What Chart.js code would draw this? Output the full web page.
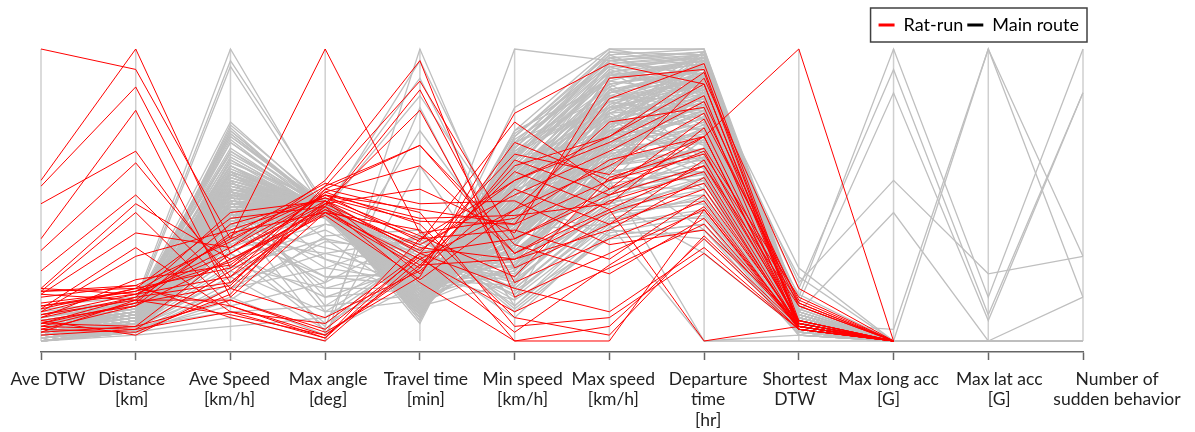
<!DOCTYPE html>
<html>
<head>
<meta charset="utf-8">
<script src="https://cdn.jsdelivr.net/npm/chart.js@4"></script>
<style>
  html, body { margin: 0; padding: 0; background: #fff; }
</style>
</head>
<body>
<canvas id="myChart" width="1195" height="432"></canvas>
<script>
// axis names (one per parallel axis)
const axisLabels = [
    'Ave DTW', ['Distance', '[km]'], ['Ave Speed', '[km/h]'], ['Max angle', '[deg]'],
    ['Travel time', '[min]'], ['Min speed', '[km/h]'], ['Max speed', '[km/h]'],
    ['Departure', 'time', '[hr]'], ['Shortest', 'DTW'], ['Max long acc', '[G]'],
    ['Max lat acc', '[G]'], ['Number of', 'sudden behavior']
];
// small horizontal shift of each axis name, as in the original figure
const labelOffsets = [7, -4, -1, 3, 6, 8, 4, 4, -4, -5, 11, 34];

const legendNames = ['Rat-run', 'Main route'];

// each row = one trip, normalised 0-100 on every axis (null = not recorded)
const ratRunLines = [
    [100, 93, 35, 50, 45, 40, 55, 70, 6, 0, null, null],
    [55, 100, 30, 48, 35, 55, 70, 88, 5, 0, null, null],
    [53, 87, 25, 52, 67, 30, 45, 60, 7, 0, null, null],
    [47, 65, 20, 46, 86, 25, 40, 52, 5, 0, null, null],
    [35, 79, 15, 44, 28, 45, 60, 78, 12, 0, null, null],
    [31, 61, 22, 53, 89, 35, 52, 65, 6, 0, null, null],
    [24, 50, 18, 47, 79, 20, 35, 48, 4, 0, null, null],
    [18, 47, 28, 45, 33, 50, 65, 82, 13, 0, null, null],
    [17, 44, 12, 2, 25, 60, 70, 92, 5, 0, null, null],
    [16, 37, 32, 55, 96, 15, 30, 45, 4, 0, null, null],
    [11, 32, 10, 1, 30, 64, 57, 90, 18, 0, null, null],
    [10, 29, 38, 49, 41, 40, 83, 95, 7, 0, null, null],
    [8, 21, 26, 51, 60, 30, 48, 58, 5, 0, null, null],
    [12, 17, 35, 100, 37, 42, 62, 70, 5, 0, null, null],
    [6, 15, 20, 48, 30, 35, 50, 70, 100, 0, null, null],
    [17, 19, 8, 0, 28, 10, 25, 40, 5, 0, null, null],
    [16, 14, 14, 3, 22, 78, 95, 88, 6, 0, null, null],
    [18, 16, 30, 50, 34, 75, 52, 76, 14, 0, null, null],
    [17, 18, 42, 46, 20, 0, 5, 35, 4, 0, null, null],
    [5, 4, 24, 44, 38, 0, 0, 45, 5, 0, null, null],
    [4, 3, 16, 52, 44, 5, 8, 30, 4, 0, null, null],
    [7, 2, 18, 8, 24, 52, 40, 62, 6, 0, null, null],
    [3, 5, 30, 47, 32, 28, 44, 54, 5, 0, null, null],
    [9, 14, 36, 54, 47, 48, 33, 38, 7, 0, null, null],
    [12, 16, 22, 45, 26, 58, 45, 0, 5, 0, null, null],
    [6, 13, 40, 49, 36, 22, 56, 66, 15, 0, null, null],
    [10, 18, 12, 1, 35, 38, 28, 50, 6, 0, null, null],
    [4, 12, 28, 43, 21, 45, 75, 80, 4, 0, null, null],
    [15, 19, 34, 53, 67, 33, 23, 42, 5, 0, null, null],
    [2, 4, 10, 6, 30, 18, 10, 32, 4, 0, null, null],
    [8, 15, 44, 48, 23, 62, 50, 60, 12, 0, null, null],
    [5, 13, 19, 51, 40, 8, 2, 36, 5, 0, null, null],
    [13, 17, 27, 46, 31, 55, 68, 84, 6, 0, null, null],
    [3, 14, 9, 2, 26, 28, 38, 56, 4, 0, null, null],
    [9, 16, 32, 50, 42, 43, 47, 73, 7, 0, null, null],
    [6, 5, 14, 4, 29, 3, 26, 46, 5, 0, null, null],
    [11, 18, 25, 47, 52, 37, 90, 93, 6, 0, null, null],
    [7, 12, 37, 44, 25, 68, 55, 64, 13, 0, null, null]
];

const mainRouteLines = [
    [2, 6, 45, 46, 18, 40, 70, 85, 5, 0, 0, 0],
    [4, 8, 52, 44, 14, 48, 78, 92, 6, 0, 0, 0],
    [1, 5, 38, 47, 24, 30, 60, 70, 4, 0, 0, 0],
    [6, 10, 58, 45, 12, 55, 85, 95, 7, 0, 0, 0],
    [3, 7, 48, 43, 16, 42, 72, 80, 5, 0, 0, 0],
    [0, 4, 33, 48, 30, 22, 50, 60, 3, 0, 0, 0],
    [5, 9, 55, 46, 13, 52, 82, 88, 8, 0, 0, 0],
    [2, 6, 42, 45, 20, 36, 66, 75, 4, 0, 0, 0],
    [8, 12, 60, 42, 10, 60, 90, 97, 9, 0, 0, 0],
    [1, 5, 40, 49, 22, 33, 62, 65, 5, 0, 0, 0],
    [4, 8, 50, 46, 15, 45, 76, 90, 6, 0, 0, 0],
    [3, 7, 46, 44, 17, 38, 68, 78, 5, 0, 0, 0],
    [7, 11, 57, 47, 12, 58, 88, 94, 7, 0, 0, 0],
    [2, 5, 36, 45, 26, 28, 56, 55, 3, 0, 0, 0],
    [5, 9, 53, 43, 14, 50, 80, 86, 6, 0, 0, 0],
    [0, 4, 31, 40, 33, 18, 45, 48, 2, 0, 0, 0],
    [6, 10, 59, 46, 11, 63, 92, 98, 8, 0, 0, 0],
    [3, 6, 44, 47, 19, 35, 64, 72, 4, 0, 0, 0],
    [4, 8, 49, 45, 16, 44, 74, 83, 5, 0, 0, 0],
    [1, 5, 39, 44, 23, 31, 58, 62, 4, 0, 0, 0],
    [9, 13, 61, 48, 9, 66, 94, 96, 10, 0, 0, 0],
    [2, 7, 47, 46, 17, 41, 71, 87, 6, 0, 0, 0],
    [5, 8, 51, 42, 15, 47, 79, 91, 7, 0, 0, 0],
    [3, 6, 43, 49, 20, 37, 67, 68, 5, 0, 0, 0],
    [0, 3, 35, 45, 28, 25, 53, 52, 3, 0, 0, 0],
    [7, 11, 56, 44, 12, 57, 86, 93, 8, 0, 0, 0],
    [4, 9, 54, 46, 13, 53, 83, 89, 6, 0, 0, 0],
    [2, 6, 41, 47, 21, 34, 63, 74, 5, 0, 0, 0],
    [1, 5, 37, 43, 25, 29, 57, 58, 4, 0, 0, 0],
    [6, 10, 58, 45, 11, 61, 91, 95, 9, 0, 0, 0],
    [5, 10, 70, 46, 10, 62, 92, 96, 7, 0, 0, 0],
    [7, 12, 72, 45, 9, 66, 95, 97, 9, 0, 0, 0],
    [4, 9, 74, 47, 8, 58, 88, 92, 6, 0, 0, 0],
    [6, 11, 69, 44, 11, 55, 85, 94, 8, 0, 0, 0],
    [8, 13, 75, 46, 7, 68, 97, 99, 10, 0, 0, 0],
    [5, 10, 71, 45, 10, 60, 90, 93, 7, 0, 0, 0],
    [9, 14, 100, 45, 6, 70, 98, 100, 12, 0, 0, 0],
    [8, 13, 96, 47, 7, 66, 96, 98, 10, 0, 0, 0],
    [7, 12, 94, 44, 8, 64, 94, 97, 9, 0, 0, 0],
    [0, 3, 20, 30, 35, 15, 40, 45, 3, 0, 0, 0],
    [1, 4, 12, 20, 37, 10, 36, 40, 2, 0, 0, 0],
    [0, 2, 5, 8, 30, 8, 38, 35, 4, 0, 0, 0],
    [2, 5, 25, 35, 28, 20, 48, 50, 3, 0, 0, 0],
    [1, 4, 15, 2, 60, 12, 42, 42, 2, 0, 0, 0],
    [0, 3, 8, 0, 100, 25, 45, 55, 5, 0, 0, 0],
    [3, 6, 28, 38, 22, 26, 52, 57, 4, 0, 0, 0],
    [2, 5, 30, 5, 80, 18, 44, 47, 3, 0, 0, 0],
    [3, 7, 45, 25, 20, 35, 65, 70, 5, 0, 0, 0],
    [4, 8, 50, 15, 18, 40, 72, 82, 6, 0, 0, 0],
    [2, 6, 40, 32, 24, 30, 60, 64, 4, 0, 0, 0],
    [5, 9, 55, 28, 15, 48, 80, 88, 7, 0, 0, 0],
    [1, 5, 48, 10, 14, 44, 75, 84, 6, 0, 0, 0],
    [4, 8, 62, 43, 12, 100, 96, 99, 11, 0, 0, 0],
    [5, 9, 60, 45, 13, 80, 100, 100, 8, 0, 0, 0],
    [3, 7, 52, 46, 15, 72, 100, 95, 7, 0, 0, 0],
    [2, 6, 46, 44, 18, 38, 40, 0, 0, 0, 0, 0],
    [3, 7, 49, 47, 16, 42, 55, 0, 2, 0, 0, 0],
    [1, 5, 43, 44, 96, 30, 60, 66, 5, 0, 0, 0],
    [2, 6, 47, 45, 84, 36, 70, 76, 5, 0, 0, 0],
    [1, 4, 38, 20, 72, 28, 58, 62, 4, 0, 0, 0],
    [0, 4, 34, 46, 90, 24, 54, 58, 4, 0, 0, 0],
    [3, 7, 50, 45, 15, 45, 75, 85, 15, 100, 15, 100],
    [4, 8, 52, 46, 14, 48, 78, 88, 18, 93, 9, 85],
    [2, 6, 48, 44, 17, 40, 70, 80, 13, 85, 7, 85],
    [5, 9, 55, 45, 13, 52, 82, 90, 20, 55, 23, 29],
    [3, 7, 47, 47, 16, 43, 73, 84, 10, 44, 0, 15],
    [4, 8, 51, 46, 14, 46, 76, 86, 6, 4, 100, 29],
    [2, 6, 45, 45, 18, 39, 69, 79, 5, 0, 100, 15],
    [3, 7, 47, 46, 17, 41, 71, 83, 22, 0, 0, 0],
    [4, 8, 53, 44, 13, 50, 81, 91, 25, 0, 0, 0],
    [2, 5, 42, 45, 20, 34, 64, 71, 16, 0, 0, 0],
    [1, 5, 44, 46, 19, 52, 62, 68, 5, 0, 0, 0],
    [3, 7, 50, 45, 15, 25, 85, 90, 6, 0, 0, 0],
    [2, 6, 47, 44, 17, 60, 66, 82, 6, 0, 0, 0],
    [4, 8, 53, 46, 14, 35, 90, 93, 7, 0, 0, 0],
    [0, 4, 36, 47, 27, 45, 50, 60, 4, 0, 0, 0],
    [5, 9, 56, 45, 12, 20, 76, 87, 7, 0, 0, 0],
    [2, 6, 43, 43, 20, 65, 82, 78, 5, 0, 0, 0],
    [3, 7, 48, 46, 16, 50, 60, 92, 6, 0, 0, 0],
    [1, 5, 40, 45, 23, 14, 68, 73, 4, 0, 0, 0],
    [6, 10, 57, 44, 12, 54, 72, 96, 8, 0, 0, 0],
    [4, 8, 52, 47, 14, 30, 56, 66, 5, 0, 0, 0],
    [2, 6, 46, 46, 18, 58, 95, 98, 6, 0, 0, 0],
    [3, 7, 49, 44, 15, 38, 86, 74, 5, 0, 0, 0],
    [1, 5, 41, 48, 21, 48, 78, 64, 4, 0, 0, 0],
    [5, 9, 54, 45, 13, 26, 62, 84, 7, 0, 0, 0],
    [0, 3, 34, 46, 29, 36, 74, 90, 5, 0, 0, 0],
    [7, 11, 58, 46, 11, 68, 84, 80, 8, 0, 0, 0],
    [2, 6, 45, 45, 19, 22, 70, 94, 6, 0, 0, 0],
    [4, 8, 51, 43, 14, 62, 98, 86, 7, 0, 0, 0],
    [1, 6, 44, 45, 19, 47, 58, 63, 5, 0, 0, 0],
    [3, 8, 51, 46, 15, 34, 73, 97, 6, 0, 0, 0],
    [2, 7, 48, 44, 17, 56, 88, 71, 6, 0, 0, 0],
    [4, 9, 55, 47, 13, 44, 66, 92, 7, 0, 0, 0],
    [0, 4, 37, 45, 25, 27, 47, 69, 4, 0, 0, 0],
    [5, 10, 60, 46, 11, 59, 80, 99, 8, 0, 0, 0],
    [2, 6, 46, 45, 18, 32, 78, 81, 5, 0, 0, 0],
    [3, 7, 50, 43, 16, 63, 70, 88, 6, 0, 0, 0],
    [1, 5, 42, 47, 22, 40, 92, 76, 5, 0, 0, 0],
    [6, 11, 63, 45, 10, 49, 64, 95, 9, 0, 0, 0],
    [4, 8, 53, 46, 14, 57, 76, 59, 6, 0, 0, 0],
    [2, 6, 45, 44, 19, 24, 54, 86, 5, 0, 0, 0],
    [3, 7, 49, 46, 16, 46, 84, 93, 6, 0, 0, 0],
    [1, 4, 39, 48, 24, 38, 67, 90, 4, 0, 0, 0],
    [5, 9, 57, 45, 12, 42, 89, 85, 8, 0, 0, 0],
    [0, 3, 32, 44, 31, 30, 61, 77, 3, 0, 0, 0],
    [7, 12, 65, 46, 10, 64, 87, 97, 9, 0, 0, 0],
    [2, 6, 47, 47, 17, 51, 72, 70, 5, 0, 0, 0],
    [4, 8, 52, 45, 14, 36, 58, 91, 6, 0, 0, 0],
    [3, 7, 48, 43, 16, 55, 93, 83, 7, 0, 0, 0],
    [1, 5, 41, 46, 21, 19, 52, 61, 4, 0, 0, 0],
    [6, 10, 59, 44, 11, 67, 99, 98, 8, 0, 0, 0],
    [2, 6, 44, 46, 18, 43, 80, 79, 5, 0, 0, 0],
    [5, 9, 56, 47, 12, 33, 69, 94, 7, 0, 0, 0],
    [3, 7, 50, 45, 15, 60, 77, 67, 6, 0, 0, 0],
    [0, 4, 35, 43, 28, 16, 43, 56, 3, 0, 0, 0],
    [4, 8, 54, 46, 13, 47, 91, 96, 7, 0, 0, 0],
    [2, 5, 43, 45, 20, 29, 59, 73, 4, 0, 0, 0],
    [8, 13, 68, 46, 9, 57, 83, 92, 9, 0, 0, 0],
    [6, 11, 73, 44, 9, 63, 93, 98, 8, 0, 0, 0],
    [7, 12, 70, 47, 10, 52, 79, 89, 8, 0, 0, 0],
    [5, 10, 68, 45, 11, 69, 90, 95, 7, 0, 0, 0],
    [4, 9, 72, 46, 9, 47, 86, 91, 7, 0, 0, 0],
    [3, 7, 62, 45, 12, 41, 68, 87, 6, 0, 0, 0],
    [2, 6, 28, 44, 29, 21, 46, 54, 4, 0, 0, 0],
    [1, 4, 22, 40, 33, 17, 41, 50, 3, 0, 0, 0],
    [3, 6, 26, 18, 27, 23, 49, 58, 4, 0, 0, 0],
    [0, 3, 18, 25, 36, 12, 39, 44, 3, 0, 0, 0],
    [2, 5, 10, 12, 32, 14, 35, 38, 2, 0, 0, 0],
    [1, 4, 33, 6, 24, 26, 51, 63, 4, 0, 0, 0],
    [4, 8, 40, 22, 19, 37, 62, 75, 5, 0, 0, 0],
    [3, 7, 35, 30, 22, 31, 57, 66, 5, 0, 0, 0],
    [5, 9, 58, 35, 13, 54, 83, 90, 7, 0, 0, 0],
    [2, 6, 52, 12, 16, 45, 71, 80, 6, 0, 0, 0],
    [1, 5, 44, 3, 20, 33, 60, 69, 5, 0, 0, 0],
    [10, 14, 64, 46, 8, 70, 96, 99, 10, 0, 0, 0],
    [12, 15, 60, 43, 10, 65, 90, 96, 12, 0, 0, 0],
    [11, 13, 55, 45, 12, 58, 85, 93, 11, 0, 0, 0],
    [3, 7, 47, 45, 17, 48, 36, 40, 5, 0, 0, 0],
    [2, 6, 45, 46, 18, 42, 48, 30, 4, 0, 0, 0],
    [4, 8, 51, 44, 15, 50, 60, 38, 6, 0, 0, 0],
    [3, 7, 49, 45, 16, 66, 97, 90, 6, 0, 0, 0],
    [2, 6, 46, 46, 18, 53, 87, 62, 5, 0, 0, 0],
    [4, 8, 52, 44, 14, 71, 94, 84, 7, 0, 0, 0],
    [1, 5, 42, 47, 21, 46, 70, 57, 4, 0, 0, 0],
    [5, 9, 56, 45, 12, 64, 82, 76, 8, 0, 0, 0],
    [3, 7, 48, 46, 17, 28, 66, 81, 5, 0, 0, 0],
    [2, 6, 45, 45, 19, 56, 74, 98, 6, 0, 0, 0],
    [4, 8, 51, 43, 15, 39, 92, 88, 6, 0, 0, 0],
    [6, 10, 58, 46, 11, 72, 88, 93, 8, 0, 0, 0],
    [1, 5, 40, 44, 23, 34, 79, 95, 4, 0, 0, 0],
    [3, 7, 50, 47, 16, 61, 63, 85, 6, 0, 0, 0],
    [2, 6, 44, 45, 19, 49, 96, 91, 5, 0, 0, 0],
    [5, 9, 54, 44, 13, 43, 77, 61, 7, 0, 0, 0],
    [0, 4, 34, 46, 30, 40, 65, 79, 4, 0, 0, 0],
    [4, 8, 53, 45, 14, 68, 80, 72, 7, 0, 0, 0],
    [3, 7, 47, 43, 17, 24, 61, 89, 5, 0, 0, 0],
    [2, 6, 43, 46, 20, 54, 89, 97, 6, 0, 0, 0],
    [6, 10, 57, 45, 12, 45, 70, 52, 8, 0, 0, 0],
    [1, 5, 41, 44, 22, 59, 84, 82, 5, 0, 0, 0],
    [4, 9, 55, 46, 13, 32, 75, 99, 7, 0, 0, 0],
    [7, 12, 66, 45, 10, 70, 99, 94, 9, 0, 0, 0],
    [8, 13, 71, 46, 9, 60, 91, 87, 10, 0, 0, 0],
    [3, 8, 65, 44, 11, 53, 81, 90, 7, 0, 0, 0],
    [2, 7, 58, 47, 14, 48, 73, 96, 6, 0, 0, 0],
    [5, 10, 63, 45, 11, 36, 68, 78, 8, 0, 0, 0],
    [1, 5, 30, 15, 26, 22, 50, 60, 4, 0, 0, 0],
    [2, 6, 36, 22, 23, 28, 55, 66, 5, 0, 0, 0],
    [0, 4, 24, 10, 30, 18, 45, 52, 3, 0, 0, 0],
    [3, 7, 40, 28, 20, 33, 60, 72, 5, 0, 0, 0],
    [1, 5, 18, 34, 31, 16, 42, 49, 3, 0, 0, 0],
    [2, 5, 22, 4, 34, 20, 47, 56, 4, 0, 0, 0],
    [4, 8, 44, 18, 18, 38, 66, 78, 6, 0, 0, 0],
    [0, 3, 14, 36, 38, 11, 37, 43, 2, 0, 0, 0]
];

const RED = '#ff0000';
const GRAY = '#bfbfbf';
const FONT = 'Lato';

Chart.defaults.font.family = FONT;
Chart.defaults.font.size = 18;

// light grey vertical line for every parallel axis
const axisLines = {
    id: 'axisLines',
    beforeDatasetsDraw(chart) {
        const xs = chart.scales.x, ys = chart.scales.y;
        const ctx = chart.ctx;
        ctx.save();
        ctx.strokeStyle = '#cfcfcf';
        ctx.lineWidth = 1.5;
        xs.ticks.forEach((t, i) => {
            const px = xs.getPixelForTick(i);
            ctx.beginPath();
            ctx.moveTo(px, ys.getPixelForValue(0));
            ctx.lineTo(px, ys.getPixelForValue(100));
            ctx.stroke();
        });
        ctx.restore();
    }
};

// axis names under the bottom axis
const axisNames = {
    id: 'axisNames',
    afterDraw(chart) {
        const xs = chart.scales.x;
        const ctx = chart.ctx;
        ctx.save();
        ctx.font = '17.5px ' + FONT;
        ctx.fillStyle = '#222';
        ctx.textAlign = 'center';
        ctx.textBaseline = 'middle';
        axisLabels.forEach((lab, i) => {
            const lines = Array.isArray(lab) ? lab : [lab];
            const px = xs.getPixelForTick(i) + labelOffsets[i];
            lines.forEach((s, k) => ctx.fillText(s, px, xs.top + 27 + k * 20.5));
        });
        ctx.restore();
    }
};

// frame around the legend
const legendFrame = {
    id: 'legendFrame',
    afterDraw(chart) {
        const boxes = chart.legend.legendHitBoxes;
        if (!boxes || !boxes.length) return;
        const first = boxes[0], last = boxes[boxes.length - 1];
        const left = first.left - 8;
        const right = last.left + last.width + 8;
        const mid = first.top + first.height / 2;
        const ctx = chart.ctx;
        ctx.save();
        ctx.strokeStyle = '#404040';
        ctx.lineWidth = 1.5;
        ctx.strokeRect(left, mid - 17, right - left, 34);
        ctx.restore();
    }
};

const datasets = [];
ratRunLines.forEach(row => {
    datasets.push({ data: row, borderColor: RED, borderWidth: 1, pointRadius: 0, tension: 0, order: 1 });
});
mainRouteLines.forEach(row => {
    datasets.push({ data: row, borderColor: GRAY, borderWidth: 1.3, pointRadius: 0, tension: 0, order: 2 });
});

const ctx = document.getElementById('myChart').getContext('2d');
new Chart(ctx, {
    type: 'line',
    data: { labels: axisLabels, datasets: datasets },
    options: {
        responsive: false,
        animation: false,
        events: [],
        spanGaps: false,
        layout: { padding: { top: 12, left: 41, right: 112, bottom: 72 } },
        scales: {
            x: {
                offset: false,
                grid: { drawOnChartArea: false, drawTicks: true, tickLength: 8, tickColor: '#666', tickWidth: 1.5, color: '#666' },
                border: { display: true, color: '#666', width: 1.5 },
                ticks: { display: false, autoSkip: false, maxRotation: 0, minRotation: 0 }
            },
            y: { display: false, min: -3.77, max: 101.71 }
        },
        plugins: {
            tooltip: { enabled: false },
            legend: {
                position: 'top',
                align: 'end',
                labels: {
                    usePointStyle: true,
                    pointStyleWidth: 16,
                    padding: 4,
                    color: '#222',
                    font: { size: 18 },
                    generateLabels: () => legendNames.map((name, i) => ({
                        text: name,
                        strokeStyle: i === 0 ? RED : '#000',
                        fillStyle: i === 0 ? RED : '#000',
                        lineWidth: 3,
                        pointStyle: 'line',
                        hidden: false,
                        datasetIndex: i
                    }))
                }
            }
        }
    },
    plugins: [axisLines, axisNames, legendFrame]
});
</script>
</body>
</html>
